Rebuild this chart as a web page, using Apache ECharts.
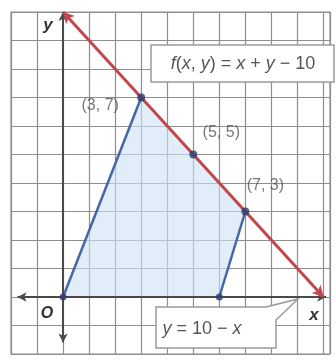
<!DOCTYPE html>
<html><head><meta charset="utf-8">
<script src="https://cdn.jsdelivr.net/npm/echarts@6/dist/echarts.min.js"></script>
<style>html,body{margin:0;padding:0;background:#fff}#c{width:336px;height:364px}</style>
</head><body><div id="c"></div>
<script>
// Feasible region corners (x, y)
const regionVertices = [[0, 0], [3, 7], [7, 3], [6, 0]];
// Labeled points lying on the line x + y = 10
const labeledPoints = [[3, 7], [5, 5], [7, 3]];
// Corners on the x-axis
const cornerPoints = [[0, 0], [6, 0]];
// Line y = 10 - x, drawn between its intercepts
const boundaryLine = [[0, 10], [10, 0]];
// Blue edges of the region
const leftEdge = [[0, 0], [3, 7]];
const rightEdge = [[7, 3], [6, 0]];
// Visible coordinate window
const xRange = [-2, 10.25];
const yRange = [-2, 10];
// Axis arrows
const xAxisEnds = [[-1.75, 0], [10.1, 0]];
const yAxisEnds = [[0, -1.6], [0, 10]];

const gridColor = '#8e8e8e';
const blue = '#4866a6';
const dot = '#2c3d70';
const red = '#c2464c';
const textColor = '#555';
const sans = 'Liberation Sans, Arial, sans-serif';

// label offsets (px) from each labeled point
const labelOffsets = [[-41, 8], [28, -22], [20, -26]];

const chart = echarts.init(document.getElementById('c'));

const valueAxis = (range) => ({
  type: 'value', min: range[0], max: range[1], interval: 1,
  axisLine: { show: false }, axisTick: { show: false }, axisLabel: { show: false },
  splitLine: { show: true, lineStyle: { color: gridColor, width: 1.2 } }
});

const italicRich = { i: { fontStyle: 'italic', fontSize: 18, fill: textColor, fontFamily: sans } };

chart.setOption({
  animation: false,
  backgroundColor: '#fff',
  grid: { left: 11, right: 6, top: 12, bottom: 10, show: true, borderColor: gridColor, borderWidth: 1.2 },
  xAxis: valueAxis(xRange),
  yAxis: valueAxis(yRange),
  series: [
    {
      type: 'custom', z: 1,
      renderItem: (params, api) => ({
        type: 'polygon',
        shape: { points: regionVertices.map(p => api.coord(p)) },
        style: { fill: 'rgba(205,225,245,0.6)' }
      }),
      data: [0]
    },
    {
      type: 'line', z: 3, data: [], silent: true,
      markLine: {
        silent: true, symbol: ['arrow', 'arrow'], symbolSize: [7, 9], label: { show: false },
        lineStyle: { color: '#4a4a4a', width: 2, type: 'solid' },
        data: [
          [{ coord: xAxisEnds[0] }, { coord: xAxisEnds[1] }],
          [{ coord: yAxisEnds[0] }, { coord: yAxisEnds[1] }]
        ]
      }
    },
    { type: 'line', z: 4, data: leftEdge, showSymbol: false, lineStyle: { color: blue, width: 2.5 } },
    { type: 'line', z: 4, data: rightEdge, showSymbol: false, lineStyle: { color: blue, width: 2.5 } },
    {
      type: 'line', z: 5, data: [], silent: true,
      markLine: {
        silent: true, symbol: ['arrow', 'arrow'], symbolSize: [9, 11], label: { show: false },
        lineStyle: { color: red, width: 3, type: 'solid' },
        data: [[{ coord: boundaryLine[0] }, { coord: boundaryLine[1] }]]
      }
    },
    {
      type: 'scatter', z: 6, symbolSize: 7, itemStyle: { color: dot },
      data: cornerPoints
    },
    {
      type: 'scatter', z: 6, symbolSize: 8, itemStyle: { color: dot },
      data: labeledPoints.map((p, i) => ({
        value: p,
        label: {
          show: true,
          formatter: `(${p[0]}, ${p[1]})`,
          position: 'inside', align: 'center', verticalAlign: 'middle',
          offset: labelOffsets[i],
          color: textColor, fontSize: 16, fontFamily: sans
        }
      }))
    }
  ],
  graphic: [
    {
      type: 'rect', z: 100, shape: { x: 151, y: 45, width: 183, height: 37 },
      style: { fill: '#fff', stroke: '#9a9a9a', lineWidth: 1.5 }
    },
    {
      type: 'text', z: 101, x: 243, y: 64,
      style: {
        text: '{i|f}({i|x}, {i|y}) = {i|x} + {i|y} − 10',
        align: 'center', verticalAlign: 'middle',
        fill: textColor, fontSize: 18, fontFamily: sans,
        rich: italicRich
      }
    },
    {
      type: 'polygon', z: 100,
      shape: { points: [[156, 307], [266, 307], [298, 299], [276, 320], [276, 348], [156, 348]] },
      style: { fill: '#fff', stroke: '#9a9a9a', lineWidth: 1.5 }
    },
    {
      type: 'text', z: 101, x: 202, y: 329,
      style: {
        text: '{i|y} = 10 − {i|x}',
        align: 'center', verticalAlign: 'middle',
        fill: textColor, fontSize: 18, fontFamily: sans,
        rich: italicRich
      }
    },
    {
      type: 'text', z: 101, x: 48, y: 25,
      style: { text: 'y', align: 'center', verticalAlign: 'middle', fill: '#333', fontSize: 17, fontWeight: 'bold', fontStyle: 'italic', fontFamily: sans }
    },
    {
      type: 'text', z: 101, x: 314, y: 315,
      style: { text: 'x', align: 'center', verticalAlign: 'middle', fill: '#333', fontSize: 17, fontWeight: 'bold', fontStyle: 'italic', fontFamily: sans }
    },
    {
      type: 'text', z: 101, x: 47, y: 314,
      style: { text: 'O', align: 'center', verticalAlign: 'middle', fill: '#333', fontSize: 16, fontWeight: 'bold', fontStyle: 'italic', fontFamily: sans }
    }
  ]
});
</script>
</body></html>
